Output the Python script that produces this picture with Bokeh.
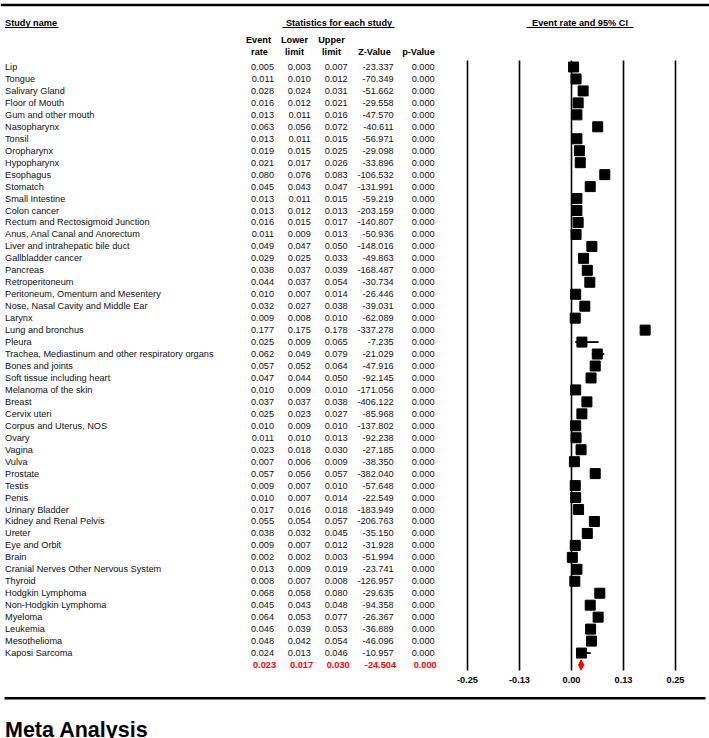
from bokeh.plotting import figure
from bokeh.models import Range1d, ColumnDataSource
from bokeh.core.properties import value
from bokeh.embed import file_html
from bokeh.resources import INLINE

# ---------------- data ----------------
studies = [
    "Lip", "Tongue", "Salivary Gland", "Floor  of Mouth", "Gum and other mouth",
    "Nasopharynx", "Tonsil", "Oropharynx", "Hypopharynx", "Esophagus",
    "Stomatch", "Small Intestine", "Colon cancer", "Rectum and Rectosigmoid Junction",
    "Anus, Anal Canal and Anorectum", "Liver and intrahepatic bile duct",
    "Gallbladder cancer", "Pancreas", "Retroperitoneum",
    "Peritoneum, Omentum and Mesentery", "Nose, Nasal Cavity and Middle Ear",
    "Larynx", "Lung and bronchus", "Pleura",
    "Trachea, Mediastinum and other respiratory organs", "Bones and joints",
    "Soft tissue including heart", "Melanoma of the skin", "Breast", "Cervix uteri",
    "Corpus and Uterus, NOS", "Ovary", "Vagina", "Vulva", "Prostate", "Testis",
    "Penis", "Urinary Bladder", "Kidney and Renal Pelvis", "Ureter", "Eye and Orbit",
    "Brain", "Cranial Nerves Other Nervous System", "Thyroid", "Hodgkin Lymphoma",
    "Non-Hodgkin Lymphoma", "Myeloma", "Leukemia", "Mesothelioma", "Kaposi Sarcoma",
]
event_rate = [
    0.005, 0.011, 0.028, 0.016, 0.013, 0.063, 0.013, 0.019, 0.021, 0.080,
    0.045, 0.013, 0.013, 0.016, 0.011, 0.049, 0.029, 0.038, 0.044, 0.010,
    0.032, 0.009, 0.177, 0.025, 0.062, 0.057, 0.047, 0.010, 0.037, 0.025,
    0.010, 0.011, 0.023, 0.007, 0.057, 0.009, 0.010, 0.017, 0.055, 0.038,
    0.009, 0.002, 0.013, 0.008, 0.068, 0.045, 0.064, 0.046, 0.048, 0.024,
]
lower_limit = [
    0.003, 0.010, 0.024, 0.012, 0.011, 0.056, 0.011, 0.015, 0.017, 0.076,
    0.043, 0.011, 0.012, 0.015, 0.009, 0.047, 0.025, 0.037, 0.037, 0.007,
    0.027, 0.008, 0.175, 0.009, 0.049, 0.052, 0.044, 0.009, 0.037, 0.023,
    0.009, 0.010, 0.018, 0.006, 0.056, 0.007, 0.007, 0.016, 0.054, 0.032,
    0.007, 0.002, 0.009, 0.007, 0.058, 0.043, 0.053, 0.039, 0.042, 0.013,
]
upper_limit = [
    0.007, 0.012, 0.031, 0.021, 0.016, 0.072, 0.015, 0.025, 0.026, 0.083,
    0.047, 0.015, 0.013, 0.017, 0.013, 0.050, 0.033, 0.039, 0.054, 0.014,
    0.038, 0.010, 0.178, 0.065, 0.079, 0.064, 0.050, 0.010, 0.038, 0.027,
    0.010, 0.013, 0.030, 0.009, 0.057, 0.010, 0.014, 0.018, 0.057, 0.045,
    0.012, 0.003, 0.019, 0.008, 0.080, 0.048, 0.077, 0.053, 0.054, 0.046,
]
z_value = [
    -23.337, -70.349, -51.662, -29.558, -47.570, -40.611, -56.971, -29.098, -33.896, -106.532,
    -131.991, -59.219, -203.159, -140.807, -50.936, -148.016, -49.863, -168.487, -30.734, -26.446,
    -39.031, -62.089, -337.278, -7.235, -21.029, -47.916, -92.145, -171.056, -406.122, -85.968,
    -137.802, -92.238, -27.185, -38.350, -382.040, -57.648, -22.549, -183.949, -206.763, -35.150,
    -31.928, -51.994, -23.741, -126.957, -29.635, -94.358, -26.367, -36.889, -46.096, -10.957,
]
p_value = [
    0.000, 0.000, 0.000, 0.000, 0.000, 0.000, 0.000, 0.000, 0.000, 0.000,
    0.000, 0.000, 0.000, 0.000, 0.000, 0.000, 0.000, 0.000, 0.000, 0.000,
    0.000, 0.000, 0.000, 0.000, 0.000, 0.000, 0.000, 0.000, 0.000, 0.000,
    0.000, 0.000, 0.000, 0.000, 0.000, 0.000, 0.000, 0.000, 0.000, 0.000,
    0.000, 0.000, 0.000, 0.000, 0.000, 0.000, 0.000, 0.000, 0.000, 0.000,
]
summary_rate = 0.023
summary_lower = 0.017
summary_upper = 0.030
summary_z = -24.504
summary_p = 0.000

tick_values = [-0.25, -0.125, 0.0, 0.125, 0.25]
tick_labels = ["-0.25", "-0.13", "0.00", "0.13", "0.25"]

# ---------------- layout helpers ----------------
W, H = 709, 738
ROW0, ROWH = 66.5, 11.96          # pixel row of first study, row pitch


def ry(px):
    """pixel y of the picture -> row units"""
    return (px - ROW0) / ROWH


FONT = value("Liberation Sans")
FS = "9.2px"
TXT = "#111111"
RED = "#ff0000"

p = figure(width=W, height=H, x_range=Range1d(0, W),
           y_range=Range1d(ry(H), ry(0)),
           output_backend="svg", toolbar_location=None,
           x_axis_type=None, y_axis_type=None, min_border=0)
p.outline_line_color = None
p.background_fill_color = "white"
# forest-plot scale: 0 at x=571 px, 416 px per unit
p.extra_x_ranges = {"forest": Range1d(-571 / 416, (W - 571) / 416)}

rows = list(range(len(studies)))
src = ColumnDataSource(dict(
    row=rows, name=studies,
    er=event_rate, lo=lower_limit, hi=upper_limit,
    er_s=[f"{v:.3f}" for v in event_rate],
    lo_s=[f"{v:.3f}" for v in lower_limit],
    hi_s=[f"{v:.3f}" for v in upper_limit],
    z_s=[f"{v:.3f}" for v in z_value],
    p_s=[f"{v:.3f}" for v in p_value],
))

common = dict(text_font=FONT, text_font_size=FS, text_baseline="middle")

# study names
p.text(x=4.5, y="row", text="name", source=src, text_align="left",
       text_color=TXT, **common)
# numeric columns (right aligned)
for col, xr in [("er_s", 273.5), ("lo_s", 310.3), ("hi_s", 347.2),
                ("z_s", 393.2), ("p_s", 434.2)]:
    p.text(x=xr, y="row", text=col, source=src, text_align="right",
           text_color=TXT, **common)

# summary row (red, bold)
srow = len(studies)
for val, xr in [(summary_rate, 275.5), (summary_lower, 312.5),
                (summary_upper, 349.2), (summary_z, 395.5), (summary_p, 436.2)]:
    p.text(x=[xr], y=[srow], text=[f"{val:.3f}"], text_align="right",
           text_color=RED, text_font_style="bold", **common)

# headers
hdr = dict(text_font=FONT, text_font_size=FS, text_font_style="bold",
           text_color="#000000", text_baseline="middle")
p.text(x=[4.5], y=[ry(22.7)], text=["Study name"], text_align="left", **hdr)
p.text(x=[338.5], y=[ry(22.7)], text=["Statistics for each study"],
       text_align="center", **hdr)
p.text(x=[579.5], y=[ry(22.7)], text=["Event rate and 95% CI"],
       text_align="center", **hdr)
p.text(x=[258, 294, 331], y=[ry(39.5)] * 3, text=["Event", "Lower", "Upper"],
       text_align="center", **hdr)
p.text(x=[259, 294, 331, 374, 418], y=[ry(51)] * 5,
       text=["rate", "limit", "limit", "Z-Value", "p-Value"],
       text_align="center", **hdr)

# header underlines
p.segment(x0=[4.5, 282, 526], y0=[ry(27)] * 3, x1=[58, 394, 633],
          y1=[ry(27)] * 3, line_width=1, line_color="#000000")
# top and bottom rules
p.segment(x0=[0, 4], y0=[ry(4.5), ry(697.7)], x1=[709, 705],
          y1=[ry(4.5), ry(697.7)], line_width=2.5, line_color="#000000")

# forest: vertical reference lines
p.segment(x0=tick_values, y0=[ry(60)] * len(tick_values), x1=tick_values,
          y1=[ry(670)] * len(tick_values), x_range_name="forest",
          line_width=1.6, line_color="#000000")
# confidence intervals and point estimates
p.segment(x0="lo", y0="row", x1="hi", y1="row", source=src,
          x_range_name="forest", line_width=1.8, line_color="#000000")
p.scatter(x="er", y="row", source=src, marker="square", size=10,
          x_range_name="forest", fill_color="#000000", line_color="#000000")
# summary diamond
p.patch(x=[summary_lower, summary_rate, summary_upper, summary_rate],
        y=[srow, srow - 0.43, srow, srow + 0.43], x_range_name="forest",
        fill_color=RED, line_color=RED)
# tick labels
p.text(x=tick_values, y=[ry(679.3)] * len(tick_values), text=tick_labels,
       x_range_name="forest", text_align="center", **hdr)

# caption
p.text(x=[4.5], y=[ry(729)], text=["Meta Analysis"], text_font=FONT,
       text_font_size="21.5px", text_font_style="bold", text_color="#000000",
       text_align="left", text_baseline="alphabetic")

open("out.html", "w").write(file_html(p, INLINE))
